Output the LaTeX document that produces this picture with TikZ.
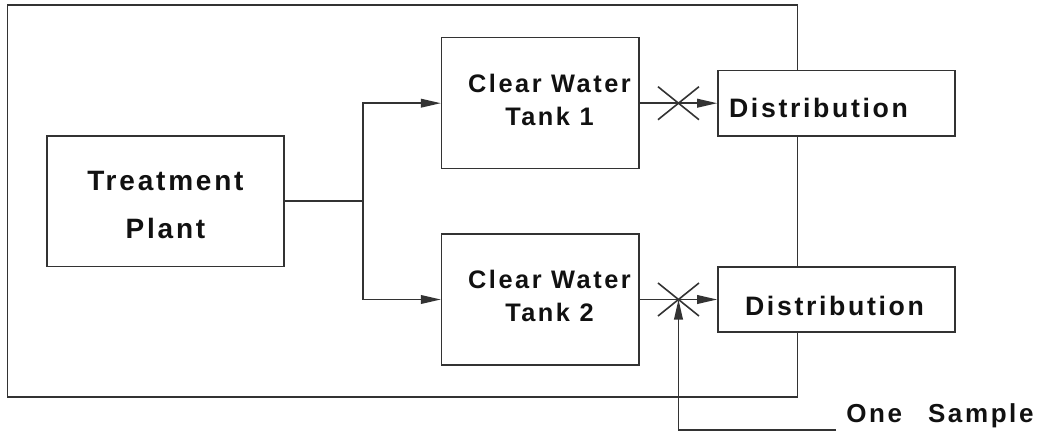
\documentclass[tikz,border=0pt]{standalone}
\usepackage{fontspec}
\newfontfamily\diagfont[LetterSpace=10]{Liberation Sans}
\usetikzlibrary{arrows.meta,calc}
\definecolor{LineGray}{HTML}{333333}
\definecolor{TextBlack}{HTML}{111111}

\begin{document}
\begin{tikzpicture}[x=0.75pt,y=-0.75pt,
    every node/.style={font=\diagfont\bfseries,text=TextBlack},
    box/.style={rectangle,draw=LineGray,fill=white,line width=1.2pt,inner sep=0pt},
    flow/.style={draw=LineGray,line width=1.2pt},
    tip/.style={-{Triangle[length=15pt,width=6.5pt]}}]
  \useasboundingbox (0,0) rectangle (1046,431);
  \draw[flow] (7.3,5) rectangle (797.5,397);
  \node[box,minimum width=177.75pt,minimum height=98pt] (plant) at (165.5,201.3) {};
  \node[box,minimum width=148pt,minimum height=98.25pt] (tank1) at (540.3,103.2) {};
  \node[box,minimum width=148pt,minimum height=98.25pt] (tank2) at (540.3,299.5) {};
  \node[box,minimum width=177.75pt,minimum height=49pt] (dist1) at (836.5,103.2) {};
  \node[box,minimum width=177.75pt,minimum height=49pt] (dist2) at (836.5,299.5) {};
  \node[align=center,inner sep=0pt,
        font=\diagfont\bfseries\fontsize{21pt}{36pt}\selectfont] (plantlbl)
    at (165.5,205) {Treatment\\Plant};
  \node[align=center,inner sep=0pt,
        font=\diagfont\bfseries\fontsize{19pt}{24.75pt}\selectfont] (tank1lbl)
    at (549.5,99.5) {Clear Water\\Tank 1};
  \node[align=center,inner sep=0pt,
        font=\diagfont\bfseries\fontsize{19pt}{24.75pt}\selectfont] (tank2lbl)
    at (549.5,295.5) {Clear Water\\Tank 2};
  \node[anchor=base,inner sep=0pt,
        font=\diagfont\bfseries\fontsize{20pt}{24pt}\selectfont] (dist1lbl)
    at (818.5,118) {Distribution};
  \node[anchor=base,inner sep=0pt,
        font=\diagfont\bfseries\fontsize{20pt}{24pt}\selectfont] (dist2lbl)
    at (834.5,315) {Distribution};
  \node[anchor=base west,inner sep=0pt,
        font=\diagfont\bfseries\fontsize{19.5pt}{24pt}\selectfont] (samplelbl)
    at (846,422.7) {One\hspace{1em}Sample};
  \coordinate (split) at (362.7,201.3);
  \coordinate (cross1) at ($(tank1.east)!0.5!(dist1.west)$);
  \coordinate (cross2) at ($(tank2.east)!0.5!(dist2.west)$);
  \coordinate (sampleend) at (836,430);
  \draw[flow] (plant.east) -- (split);
  \draw[flow,tip] (split) |- (tank1.west);
  \draw[flow,tip] (split) |- (tank2.west);
  \draw[flow,tip] (tank1.east) -- (dist1.west);
  \draw[flow,tip] (tank2.east) -- (dist2.west);
  \draw[flow] ($(cross1)+(-20.5,-16.5)$) -- ($(cross1)+(20.5,16.5)$)
              ($(cross1)+(-20.5,16.5)$) -- ($(cross1)+(20.5,-16.5)$);
  \draw[flow] ($(cross2)+(-20.5,-16.5)$) -- ($(cross2)+(20.5,16.5)$)
              ($(cross2)+(-20.5,16.5)$) -- ($(cross2)+(20.5,-16.5)$);
  \draw[flow,tip] (sampleend) -| (cross2);
\end{tikzpicture}
\end{document}
